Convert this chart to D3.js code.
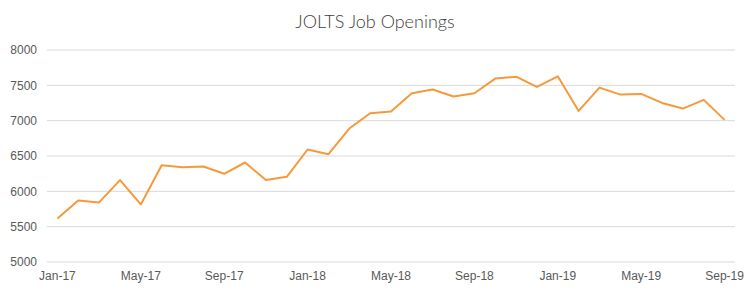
<!DOCTYPE html>
<html>
<head>
<meta charset="utf-8">
<script src="https://cdn.jsdelivr.net/npm/d3@7"></script>
<style>
  body { margin: 0; background: #fff; }
  svg { display: block; font-family: "Lato", "Noto Sans", sans-serif; }
</style>
</head>
<body>
<svg id="chart" width="750" height="294"></svg>
<script>
// monthly data, Jan-17 .. Sep-19 (thousands)
const months = [
  "Jan-17","Feb-17","Mar-17","Apr-17","May-17","Jun-17","Jul-17","Aug-17","Sep-17","Oct-17","Nov-17","Dec-17",
  "Jan-18","Feb-18","Mar-18","Apr-18","May-18","Jun-18","Jul-18","Aug-18","Sep-18","Oct-18","Nov-18","Dec-18",
  "Jan-19","Feb-19","Mar-19","Apr-19","May-19","Jun-19","Jul-19","Aug-19","Sep-19"
];
const openings = [
  5617, 5871, 5843, 6159, 5815, 6370, 6342, 6352, 6248, 6408, 6159, 6206,
  6592, 6526, 6889, 7105, 7129, 7388, 7440, 7341, 7388, 7595, 7623, 7477,
  7628, 7138, 7468, 7369, 7378, 7251, 7171, 7294, 7011
];
const yTicks = [5000, 5500, 6000, 6500, 7000, 7500, 8000];
const xTickLabels = months.filter((d, i) => i % 4 === 0);

const margin = { top: 50, right: 15, bottom: 32, left: 47 };
const width = 750 - margin.left - margin.right;
const height = 294 - margin.top - margin.bottom;

const svg = d3.select('#chart');

svg.append('text')
    .attr('x', 375)
    .attr('y', 28)
    .attr('text-anchor', 'middle')
    .attr('fill', '#404040')
    .style('font-size', '18px')
    .style('font-weight', 300)
    .text('JOLTS Job Openings');

const g = svg.append('g')
    .attr('transform', `translate(${margin.left},${margin.top})`);

const x = d3.scaleBand()
    .domain(months)
    .range([0, width]);

const y = d3.scaleLinear()
    .domain([5000, 8000])
    .range([height, 0]);

// gridlines
g.append('g')
    .selectAll('line')
    .data(yTicks)
    .join('line')
    .attr('x1', 0)
    .attr('x2', width)
    .attr('y1', d => y(d))
    .attr('y2', d => y(d))
    .attr('stroke', '#d9d9d9')
    .attr('stroke-width', 1);

// y axis labels
const yAxis = g.append('g')
    .call(d3.axisLeft(y).tickValues(yTicks).tickFormat(d3.format('d')).tickSize(0).tickPadding(10));
yAxis.select('.domain').remove();
yAxis.selectAll('text')
    .attr('fill', '#595959')
    .style('font-size', '12px');

// x axis labels
const xAxis = g.append('g')
    .attr('transform', `translate(0,${height})`)
    .call(d3.axisBottom(x).tickValues(xTickLabels).tickSize(0).tickPadding(9));
xAxis.select('.domain').remove();
xAxis.selectAll('text')
    .attr('fill', '#595959')
    .style('font-size', '12px');

const line = d3.line()
    .x((d, i) => x(months[i]) + x.bandwidth() / 2)
    .y(d => y(d));

g.append('path')
    .datum(openings)
    .attr('fill', 'none')
    .attr('stroke', '#F7993B')
    .attr('stroke-width', 2)
    .attr('stroke-linejoin', 'round')
    .attr('d', line);
</script>
</body>
</html>
